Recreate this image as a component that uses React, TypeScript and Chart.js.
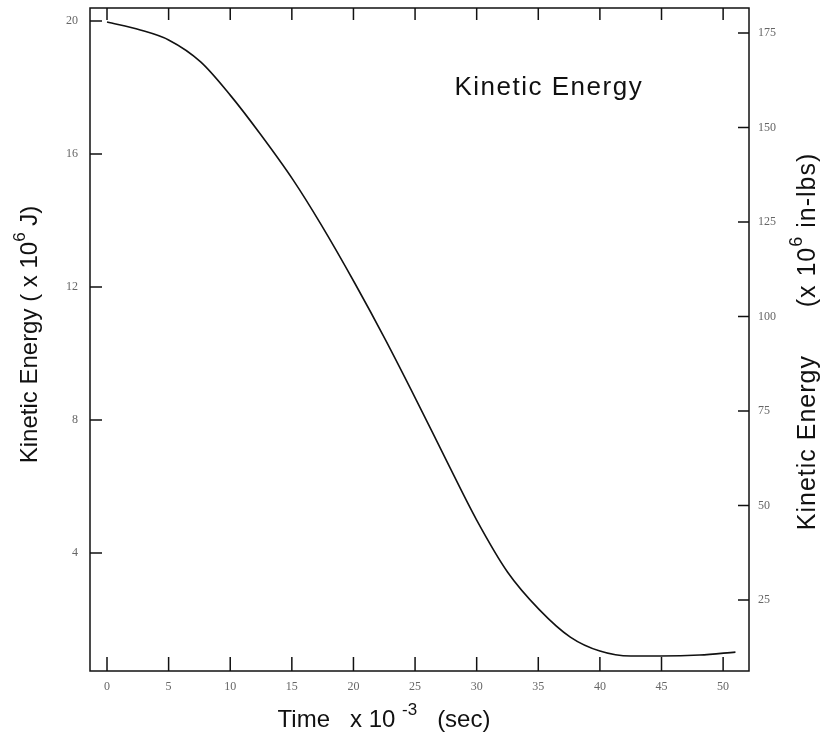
import React, { useEffect, useRef } from "react";
import { Chart, registerables } from "chart.js";

Chart.register(...registerables);

// Time (x 10^-3 sec)
const timeValues = [0, 2.7, 5, 7.6, 10, 12.5, 15.1, 17.4, 20.1, 22.6, 25.1, 27.6, 30, 32.5, 35.1, 37.6, 40, 42.5, 44.9, 48.1, 51];
// Kinetic energy (x 10^6 J)
const energyValues = [19.97, 19.73, 19.43, 18.77, 17.77, 16.57, 15.22, 13.86, 12.12, 10.41, 8.6, 6.74, 4.99, 3.43, 2.29, 1.47, 1.05, 0.9, 0.9, 0.93, 1.02];

const xTicks = [0, 5, 10, 15, 20, 25, 30, 35, 40, 45, 50];
const leftTicks = [4, 8, 12, 16, 20];
const rightTicks = [25, 50, 75, 100, 125, 150, 175];

type Part = { text: string; sup?: boolean };
const xTitle: Part[] = [{ text: "Time   x 10 " }, { text: "-3", sup: true }, { text: "   (sec)" }];
const leftTitle: Part[] = [{ text: "Kinetic Energy ( x 10" }, { text: "6", sup: true }, { text: " J)" }];
const rightTitle: Part[] = [{ text: "Kinetic Energy      (x 10" }, { text: "6", sup: true }, { text: " in-lbs)" }];
const annotationText = "Kinetic Energy";
const annotationAt = { x: 28.2, y: 18.0 };

const tickFont = { family: "'Liberation Serif', 'DejaVu Serif', serif", size: 12 };
const titleFamily = "'Liberation Sans', 'DejaVu Sans', Arial, sans-serif";
const tickColor = "#666";

function drawRich(ctx: CanvasRenderingContext2D, parts: Part[], cx: number, cy: number, rot: number, size: number, spacing: number) {
  ctx.save();
  ctx.translate(cx, cy);
  ctx.rotate(rot);
  ctx.fillStyle = "#111";
  ctx.textBaseline = "middle";
  ctx.textAlign = "left";
  (ctx as any).letterSpacing = `${spacing}px`;
  const supSize = Math.round(size * 0.72);
  const widths = parts.map((p) => {
    ctx.font = `${p.sup ? supSize : size}px ${titleFamily}`;
    return ctx.measureText(p.text).width;
  });
  const total = widths.reduce((a, b) => a + b, 0);
  let x = -total / 2;
  parts.forEach((p, i) => {
    ctx.font = `${p.sup ? supSize : size}px ${titleFamily}`;
    ctx.fillText(p.text, x, p.sup ? -size * 0.42 : 0);
    x += widths[i];
  });
  ctx.restore();
}

const framePlugin = {
  id: "frame",
  afterDraw(chart: any) {
    const { ctx, chartArea: a, scales } = chart;
    ctx.save();
    ctx.strokeStyle = "#111";
    ctx.lineWidth = 1.5;
    ctx.strokeRect(a.left, a.top, a.right - a.left, a.bottom - a.top);
    ctx.beginPath();
    scales.x.ticks.forEach((t: any) => {
      const px = scales.x.getPixelForValue(t.value);
      ctx.moveTo(px, a.bottom);
      ctx.lineTo(px, a.bottom - 14);
      ctx.moveTo(px, a.top);
      ctx.lineTo(px, a.top + 12);
    });
    scales.yL.ticks.forEach((t: any) => {
      const py = scales.yL.getPixelForValue(t.value);
      ctx.moveTo(a.left, py);
      ctx.lineTo(a.left + 12, py);
    });
    scales.yR.ticks.forEach((t: any) => {
      const py = scales.yR.getPixelForValue(t.value);
      ctx.moveTo(a.right, py);
      ctx.lineTo(a.right - 11, py);
    });
    ctx.stroke();
    ctx.restore();

    const midY = (a.top + a.bottom) / 2;
    drawRich(ctx, xTitle, 384, 720, 0, 24, 0);
    drawRich(ctx, leftTitle, 30, midY - 5, -Math.PI / 2, 24, 0);
    drawRich(ctx, rightTitle, 808, midY + 2, -Math.PI / 2, 25, 1);

    // annotation
    ctx.save();
    ctx.fillStyle = "#111";
    ctx.font = `26px ${titleFamily}`;
    (ctx as any).letterSpacing = "1.5px";
    ctx.textAlign = "left";
    ctx.textBaseline = "middle";
    ctx.fillText(
      annotationText,
      scales.x.getPixelForValue(annotationAt.x),
      scales.yL.getPixelForValue(annotationAt.y)
    );
    ctx.restore();
  },
};

const noEdgePadding = (s: any) => {
  s.paddingTop = 0;
  s.paddingBottom = 0;
};

export default function App() {
  const ref = useRef<HTMLCanvasElement>(null);
  useEffect(() => {
    if (!ref.current) return;
    const chart = new Chart(ref.current, {
      type: "line",
      data: {
        datasets: [
          {
            data: timeValues.map((t, i) => ({ x: t, y: energyValues[i] })),
            borderColor: "#111",
            borderWidth: 1.6,
            pointRadius: 0,
            fill: false,
            tension: 0.4,
            cubicInterpolationMode: "monotone",
            yAxisID: "yL",
          },
        ],
      },
      options: {
        responsive: false,
        animation: false,
        layout: { padding: { top: 8, left: 0, right: 0, bottom: 0 } },
        plugins: { legend: { display: false }, tooltip: { enabled: false } },
        scales: {
          x: {
            type: "linear",
            position: "bottom",
            min: -1.38,
            max: 52.1,
            afterBuildTicks: (s: any) => {
              s.ticks = xTicks.map((v) => ({ value: v }));
            },
            afterFit: (s: any) => {
              s.height = 75;
              s.paddingLeft = 0;
              s.paddingRight = 0;
            },
            grid: { display: false, drawTicks: false },
            border: { display: false },
            ticks: { padding: 9, font: tickFont, color: tickColor, maxRotation: 0, callback: (v: any) => String(v) },
          },
          yL: {
            type: "linear",
            position: "left",
            min: 0.451,
            max: 20.39,
            afterBuildTicks: (s: any) => {
              s.ticks = leftTicks.map((v) => ({ value: v }));
            },
            afterFit: (s: any) => {
              s.width = 90;
              noEdgePadding(s);
            },
            grid: { display: false, drawTicks: false },
            border: { display: false },
            ticks: { padding: 12, font: tickFont, color: tickColor, callback: (v: any) => String(v) },
          },
          yR: {
            type: "linear",
            position: "right",
            min: 6.22,
            max: 181.6,
            afterBuildTicks: (s: any) => {
              s.ticks = rightTicks.map((v) => ({ value: v }));
            },
            afterFit: (s: any) => {
              s.width = 81;
              noEdgePadding(s);
            },
            grid: { display: false, drawTicks: false },
            border: { display: false },
            ticks: { padding: 9, font: tickFont, color: tickColor, callback: (v: any) => String(v) },
          },
        },
      },
      plugins: [framePlugin],
    } as any);
    return () => chart.destroy();
  }, []);
  return (
    <div style={{ position: "absolute", left: 0, top: 0, width: 830, height: 746, background: "#fff" }}>
      <canvas ref={ref} width={830} height={746} style={{ display: "block" }} />
    </div>
  );
}
